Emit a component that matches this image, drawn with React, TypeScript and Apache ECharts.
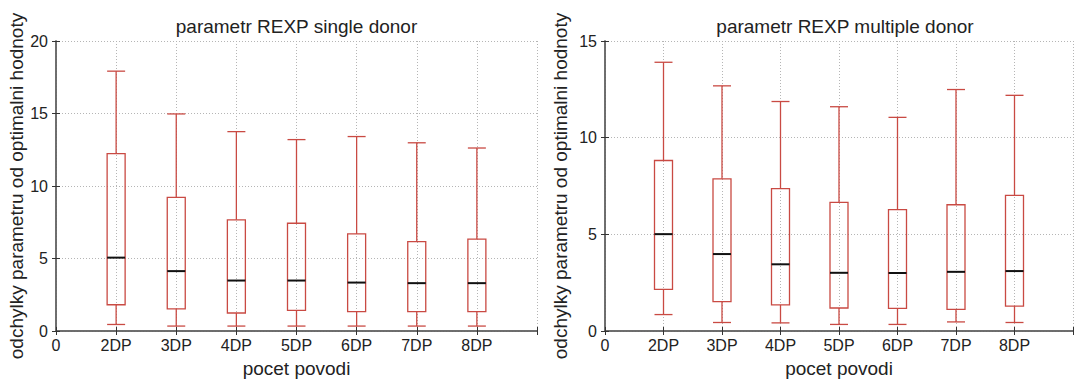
import React, { useEffect, useRef } from "react";
import * as echarts from "echarts";

const categories = ["2DP", "3DP", "4DP", "5DP", "6DP", "7DP", "8DP"];
const xTickLabels = ["0", ...categories, ""];

const singleLow = [0.45, 0.34, 0.34, 0.34, 0.34, 0.34, 0.34];
const singleQ1 = [1.81, 1.53, 1.24, 1.42, 1.33, 1.33, 1.33];
const singleMedian = [5.06, 4.13, 3.48, 3.48, 3.34, 3.3, 3.3];
const singleQ3 = [12.23, 9.21, 7.67, 7.43, 6.7, 6.16, 6.34];
const singleHigh = [17.92, 14.97, 13.75, 13.2, 13.41, 12.98, 12.62];

const multiLow = [0.85, 0.44, 0.42, 0.34, 0.34, 0.47, 0.44];
const multiQ1 = [2.15, 1.52, 1.35, 1.19, 1.17, 1.12, 1.29];
const multiMedian = [5.01, 3.98, 3.45, 3.01, 3.0, 3.06, 3.1];
const multiQ3 = [8.82, 7.87, 7.36, 6.65, 6.28, 6.53, 7.01];
const multiHigh = [13.9, 12.68, 11.87, 11.6, 11.05, 12.49, 12.19];

const titles = ["parametr REXP single donor", "parametr REXP multiple donor"];
const yName = "odchylky parametru od optimalni hodnoty";
const xName = "pocet povodi";

const RED = "#c94a43";
const FONT = "'Liberation Sans', Arial, sans-serif";

function buildData(lo: number[], q1: number[], med: number[], q3: number[], hi: number[]) {
  return categories.map((_, i) => [i + 1, lo[i], q1[i], med[i], q3[i], hi[i]]);
}

function renderBox(params: any, api: any) {
  const x = api.value(0);
  const c = (v: number) => api.coord([x, v]);
  const [px, yLow] = c(api.value(1));
  const yQ1 = c(api.value(2))[1];
  const yMed = c(api.value(3))[1];
  const yQ3 = c(api.value(4))[1];
  const yHigh = c(api.value(5))[1];
  const hw = 9;
  const red = { stroke: RED, lineWidth: 1.3, fill: "none" };
  return {
    type: "group",
    children: [
      { type: "line", shape: { x1: px, y1: yLow, x2: px, y2: yQ1 }, style: red },
      { type: "line", shape: { x1: px, y1: yQ3, x2: px, y2: yHigh }, style: red },
      { type: "line", shape: { x1: px - hw, y1: yLow, x2: px + hw, y2: yLow }, style: red },
      { type: "line", shape: { x1: px - hw, y1: yHigh, x2: px + hw, y2: yHigh }, style: red },
      { type: "rect", shape: { x: px - hw, y: yQ3, width: 2 * hw, height: yQ1 - yQ3 }, style: red },
      { type: "line", shape: { x1: px - hw, y1: yMed, x2: px + hw, y2: yMed }, style: { stroke: "#111", lineWidth: 2 } },
    ],
  };
}

export default function App() {
  const ref = useRef<HTMLDivElement>(null);
  useEffect(() => {
    if (!ref.current) return;
    const chart = echarts.init(ref.current, null, { renderer: "svg" });
    const grids = [
      { left: 56, top: 41, width: 481, height: 294.5, yMax: 20, nameGap: 29 },
      { left: 605, top: 41, width: 480, height: 294.5, yMax: 15, nameGap: 35 },
    ];
    const axisColor = "#666";
    const gridLine = { show: true, lineStyle: { color: "#b5b5b5", type: [1, 2], width: 1 } };
    const xAxes: any[] = [];
    const yAxes: any[] = [];
    grids.forEach((g, i) => {
      xAxes.push({
        type: "value",
        gridIndex: i,
        min: 0,
        max: 8,
        interval: 1,
        name: xName,
        nameLocation: "middle",
        nameGap: 28,
        nameTextStyle: { fontSize: 19, color: "#222", fontFamily: FONT },
        axisLine: { show: true, lineStyle: { color: axisColor, width: 1.5 } },
        axisTick: { show: true, inside: true, length: 4, lineStyle: { color: "#333" } },
        axisLabel: {
          fontSize: 16,
          color: "#222",
          fontFamily: FONT,
          margin: 6,
          formatter: (v: number) => xTickLabels[Math.round(v)] ?? "",
        },
        splitLine: gridLine,
      });
      xAxes.push({
        type: "value",
        gridIndex: i,
        position: "top",
        min: 0,
        max: 8,
        interval: 1,
        axisLine: { show: true, lineStyle: { color: axisColor, width: 1.5 } },
        axisTick: { show: true, inside: true, length: 4, lineStyle: { color: "#333" } },
        axisLabel: { show: false },
        splitLine: { show: false },
      });
      yAxes.push({
        type: "value",
        gridIndex: i,
        min: 0,
        max: g.yMax,
        interval: 5,
        name: yName,
        nameLocation: "middle",
        nameRotate: 90,
        nameGap: g.nameGap,
        nameTextStyle: { fontSize: 19, color: "#222", fontFamily: FONT },
        axisLine: { show: true, lineStyle: { color: axisColor, width: 1.5 } },
        axisTick: { show: true, inside: true, length: 4, lineStyle: { color: "#333" } },
        axisLabel: { fontSize: 16, color: "#222", fontFamily: FONT, margin: 8 },
        splitLine: gridLine,
      });
      yAxes.push({
        type: "value",
        gridIndex: i,
        position: "right",
        min: 0,
        max: g.yMax,
        interval: 5,
        axisLine: { show: true, lineStyle: { color: axisColor, width: 1.5 } },
        axisTick: { show: true, inside: true, length: 4, lineStyle: { color: "#333" } },
        axisLabel: { show: false },
        splitLine: { show: false },
      });
    });
    chart.setOption({
      animation: false,
      backgroundColor: "#fff",
      textStyle: { fontFamily: FONT },
      grid: grids.map((g) => ({ left: g.left, top: g.top, width: g.width, height: g.height })),
      xAxis: xAxes,
      yAxis: yAxes,
      graphic: grids.map((g, i) => ({
        type: "text",
        x: g.left + g.width / 2,
        y: 26,
        style: {
          text: titles[i],
          textAlign: "center",
          textVerticalAlign: "middle",
          fontSize: 19,
          fill: "#222",
          fontFamily: FONT,
        },
      })),
      series: [
        {
          type: "custom",
          xAxisIndex: 0,
          yAxisIndex: 0,
          renderItem: renderBox,
          encode: { x: 0, y: [1, 2, 3, 4, 5] },
          data: buildData(singleLow, singleQ1, singleMedian, singleQ3, singleHigh),
          z: 5,
        },
        {
          type: "custom",
          xAxisIndex: 2,
          yAxisIndex: 2,
          renderItem: renderBox,
          encode: { x: 0, y: [1, 2, 3, 4, 5] },
          data: buildData(multiLow, multiQ1, multiMedian, multiQ3, multiHigh),
          z: 5,
        },
      ],
    });
    return () => chart.dispose();
  }, []);
  return (
    <div
      ref={ref}
      style={{ position: "fixed", left: 0, top: 0, width: 1076, height: 383, background: "#fff" }}
    />
  );
}
